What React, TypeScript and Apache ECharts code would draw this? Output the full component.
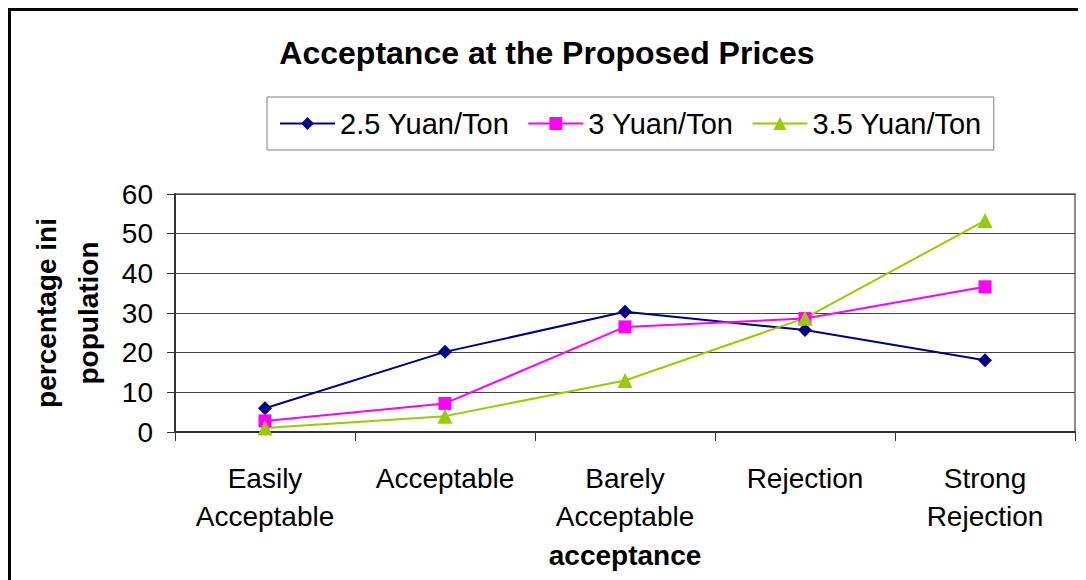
import React, { useEffect, useRef } from "react";
import * as echarts from "echarts";

const categories = ["Easily\nAcceptable", "Acceptable", "Barely\nAcceptable", "Rejection", "Strong\nRejection"];
const seriesNames = ["2.5 Yuan/Ton", "3 Yuan/Ton", "3.5 Yuan/Ton"];
const values25 = [6, 20.2, 30.3, 25.7, 18.1];
const values3 = [2.8, 7.2, 26.5, 28.6, 36.6];
const values35 = [1, 4, 13, 28.7, 53.3];
const yTicks = { min: 0, max: 60, interval: 10 };

const FONT = "'Liberation Sans', Arial, sans-serif";

export default function App() {
  const ref = useRef<HTMLDivElement>(null);
  useEffect(() => {
    if (!ref.current) return;
    const chart = echarts.init(ref.current, undefined, { renderer: "svg" });
    chart.setOption({
      animation: false,
      backgroundColor: "#ffffff",
      textStyle: { fontFamily: FONT, color: "#000" },
      title: {
        text: "Acceptance at the Proposed Prices",
        left: "center",
        top: 24,
        textStyle: { fontFamily: FONT, fontSize: 32, fontWeight: "bold", color: "#000" },
      },
      legend: {
        data: seriesNames,
        left: 259,
        top: 89,
        orient: "horizontal",
        itemWidth: 55,
        itemHeight: 16,
        itemGap: 18,
        padding: [12, 12, 12, 12],
        borderColor: "#808080",
        borderWidth: 1,
        textStyle: { fontFamily: FONT, fontSize: 29, color: "#000" },
      },
      graphic: [
        { type: "line", shape: { x1: 0, y1: 1.5, x2: 1078, y2: 1.5 }, style: { stroke: "#000", lineWidth: 3 } },
        { type: "line", shape: { x1: 1.5, y1: 0, x2: 1.5, y2: 572 }, style: { stroke: "#000", lineWidth: 3 } },
      ],
      grid: {
        left: 167,
        top: 186,
        right: 11,
        bottom: 148,
        show: true,
        borderColor: "#8c8c8c",
        borderWidth: 2,
        backgroundColor: "transparent",
      },
      xAxis: {
        type: "category",
        data: categories,
        boundaryGap: true,
        name: "acceptance",
        nameLocation: "middle",
        nameGap: 109,
        nameTextStyle: { fontFamily: FONT, fontSize: 28, fontWeight: "bold", color: "#000" },
        axisLine: { lineStyle: { color: "#333", width: 2 } },
        axisTick: { show: true, length: 9, lineStyle: { color: "#333", width: 1 } },
        axisLabel: { fontFamily: FONT, fontSize: 28, color: "#000", lineHeight: 38, margin: 27, interval: 0 },
      },
      yAxis: {
        type: "value",
        min: yTicks.min,
        max: yTicks.max,
        interval: yTicks.interval,
        name: "percentage ini\npopulation",
        nameLocation: "middle",
        nameGap: 66,
        nameTextStyle: { fontFamily: FONT, fontSize: 28, fontWeight: "bold", color: "#000", lineHeight: 42 },
        axisLine: { show: true, lineStyle: { color: "#333", width: 2 } },
        axisTick: { show: true, length: 8, lineStyle: { color: "#333", width: 1 } },
        axisLabel: { fontFamily: FONT, fontSize: 28, color: "#000", margin: 22 },
        splitLine: { show: true, lineStyle: { color: "#444", width: 1 } },
      },
      series: [
        {
          name: seriesNames[0],
          type: "line",
          data: values25,
          symbol: "diamond",
          symbolSize: 14,
          itemStyle: { color: "#000080" },
          lineStyle: { color: "#000080", width: 2 },
        },
        {
          name: seriesNames[1],
          type: "line",
          data: values3,
          symbol: "rect",
          symbolSize: 13,
          itemStyle: { color: "#ff00ff" },
          lineStyle: { color: "#ff00ff", width: 2 },
        },
        {
          name: seriesNames[2],
          type: "line",
          data: values35,
          symbol: "triangle",
          symbolSize: 15,
          itemStyle: { color: "#99cc00" },
          lineStyle: { color: "#99cc00", width: 2 },
        },
      ],
    });
    return () => chart.dispose();
  }, []);
  return <div ref={ref} style={{ width: 1078, height: 572 }} />;
}
